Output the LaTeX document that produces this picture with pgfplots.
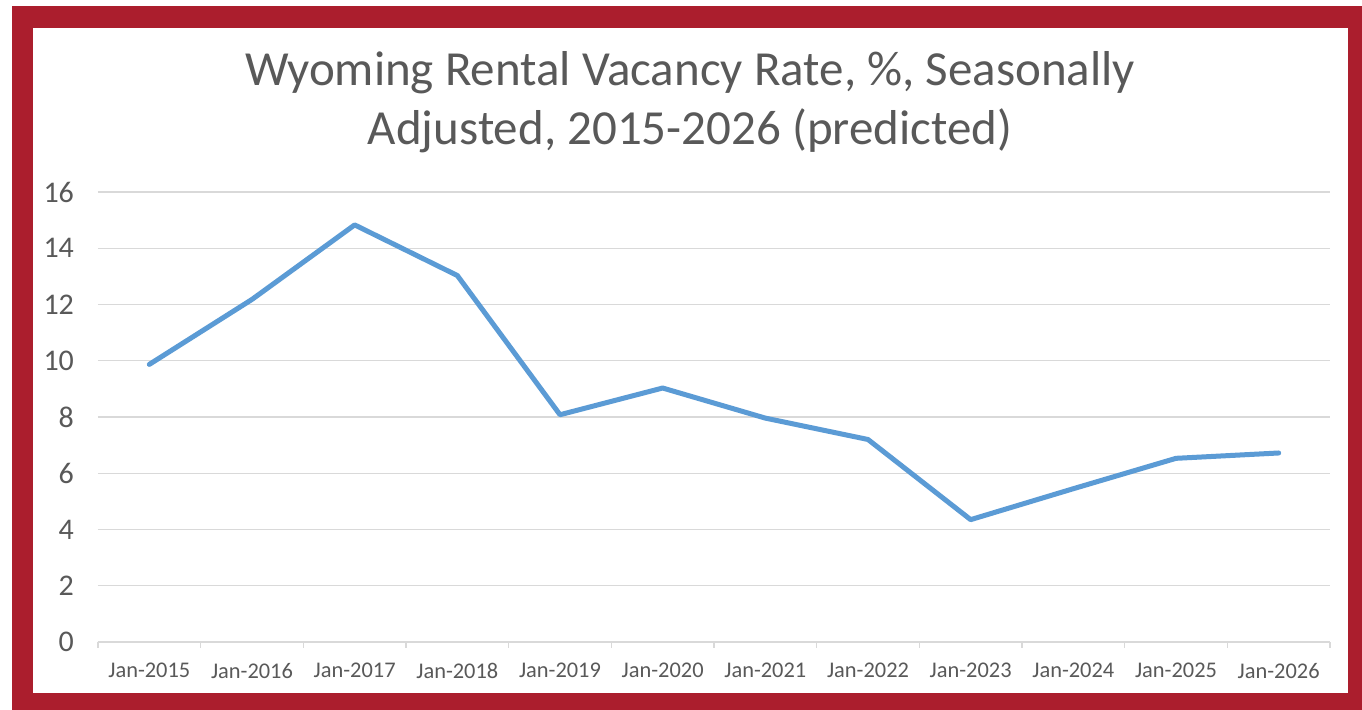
\documentclass[border=0pt]{standalone}
\usepackage{pgfplots}
\pgfplotsset{compat=1.18}
\usepackage{fontspec}
\setmainfont{Carlito}
\definecolor{frame}{RGB}{171,30,45}
\definecolor{txt}{RGB}{89,89,89}
\definecolor{grid}{RGB}{217,217,217}
\definecolor{line}{RGB}{91,155,213}
\begin{document}
\begin{tikzpicture}[x=0.5pt,y=0.5pt]
\fill[white] (0,0) rectangle (1362,710);
\fill[frame] (12,0) rectangle (1362,704);
\fill[white] (33,17) rectangle (1348,682);
\node[anchor=base,text=txt,font=\fontsize{24.5pt}{29.5pt}\selectfont,inner sep=0pt] at (690,624) {Wyoming Rental Vacancy Rate, \%, Seasonally};
\node[anchor=base,text=txt,font=\fontsize{24.5pt}{29.5pt}\selectfont,inner sep=0pt] at (690,565) {Adjusted, 2015-2026 (predicted)};
\begin{axis}[
  at={(49pt,34pt)}, anchor=south west,
  scale only axis, width=616pt, height=225pt,
  xmin=-0.5, xmax=11.5, ymin=0, ymax=16,
  axis line style={draw=none},
  xtick pos=bottom, ytick pos=left,
  ytick={0,2,...,16},
  xtick={0,...,11},
  xticklabels={Jan-2015,Jan-2016,Jan-2017,Jan-2018,Jan-2019,Jan-2020,Jan-2021,Jan-2022,Jan-2023,Jan-2024,Jan-2025,Jan-2026},
  minor xtick={-0.5,0.5,...,11.5},
  major tick length=0pt,
  minor tick length=3pt,
  tick align=outside,
  minor tick style={draw=grid, line width=0.6pt},
  ymajorgrids,
  major grid style={draw=grid, line width=0.6pt},
  yticklabel style={text=txt, font=\fontsize{15pt}{17pt}\selectfont, xshift=-8.5pt},
  xticklabel style={text=txt, font=\fontsize{11.2pt}{13pt}\selectfont, yshift=-7pt},
  /pgf/number format/assume math mode=true,
  clip=false,
]
\draw[grid, line width=0.7pt] (axis cs:-0.5,0) -- (axis cs:11.5,0);
\addplot[line, line width=2.5pt, line cap=round, line join=round] coordinates {
(0,9.87) (1,12.18) (2,14.83) (3,13.03) (4,8.08) (5,9.03) (6,7.96) (7,7.2) (8,4.35) (9,5.45) (10,6.53) (11,6.72)
};
\end{axis}
\end{tikzpicture}
\end{document}
